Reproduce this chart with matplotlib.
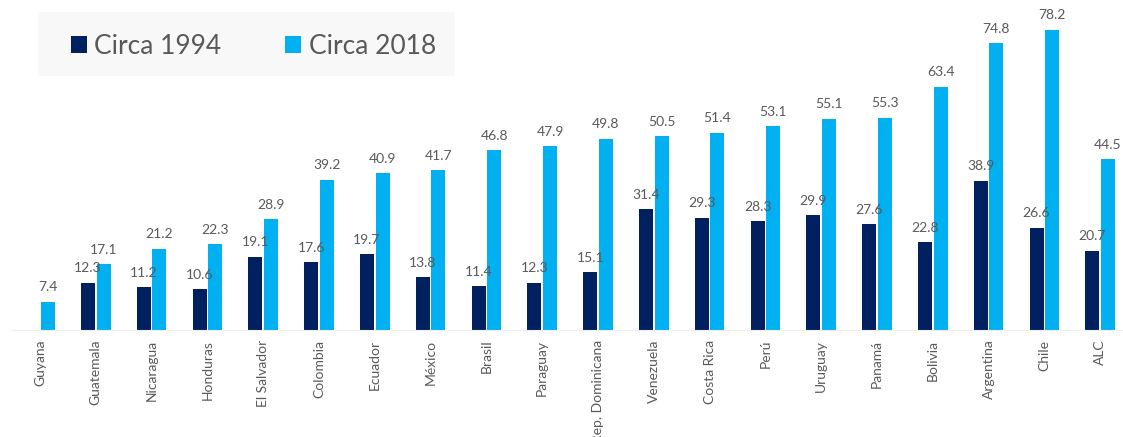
import numpy as np
import matplotlib.pyplot as plt
from matplotlib.patches import Rectangle

# Datos por país
paises = ['Guyana', 'Guatemala', 'Nicaragua', 'Honduras', 'El Salvador', 'Colombia',
          'Ecuador', 'México', 'Brasil', 'Paraguay', 'Rep. Dominicana', 'Venezuela',
          'Costa Rica', 'Perú', 'Uruguay', 'Panamá', 'Bolivia', 'Argentina', 'Chile', 'ALC']
circa_1994 = [np.nan, 12.3, 11.2, 10.6, 19.1, 17.6, 19.7, 13.8, 11.4, 12.3,
              15.1, 31.4, 29.3, 28.3, 29.9, 27.6, 22.8, 38.9, 26.6, 20.7]
circa_2018 = [7.4, 17.1, 21.2, 22.3, 28.9, 39.2, 40.9, 41.7, 46.8, 47.9,
              49.8, 50.5, 51.4, 53.1, 55.1, 55.3, 63.4, 74.8, 78.2, 44.5]

azul_oscuro = '#002060'
azul_claro = '#00B0F0'
gris = '#595959'

plt.rcParams['font.family'] = ['Lato', 'DejaVu Sans']

fig = plt.figure(figsize=(11.23, 4.37), dpi=100)
ax = fig.add_axes([0, 0.245, 1, 0.755])
ax.patch.set_alpha(0)

x = np.arange(len(paises))
ancho = 0.25
sep = 0.015

ax.bar(x - ancho / 2 - sep, circa_1994, ancho, color=azul_oscuro, label='Circa 1994')
ax.bar(x + ancho / 2 + sep, circa_2018, ancho, color=azul_claro, label='Circa 2018')

# Etiquetas de valores
for xi, v in zip(x, circa_1994):
    if not np.isnan(v):
        ax.text(xi - ancho / 2 - sep, v + 2.2, f'{v:.1f}', ha='center', va='bottom',
                fontsize=10, color=gris)
for xi, v in zip(x, circa_2018):
    ax.text(xi + ancho / 2 + sep, v + 2.2, f'{v:.1f}', ha='center', va='bottom',
            fontsize=10, color=gris)

ax.set_xlim(-40 / 55.8, 1083 / 55.8)
ax.set_ylim(0, 86)
ax.set_xticks(x)
ax.set_xticklabels(paises, rotation=90, fontsize=10, color=gris)
ax.tick_params(axis='x', length=0, pad=7)
ax.set_yticks([])
for s in ['top', 'right', 'left']:
    ax.spines[s].set_visible(False)
ax.spines['bottom'].set_color('#eeeeee')
ax.spines['bottom'].set_bounds(-0.5, 19.5)

# Leyenda sobre fondo gris claro
fondo = Rectangle((38 / 1123, 1 - 76 / 437), 417 / 1123, 64 / 437,
                  transform=fig.transFigure, facecolor='#f8f8f8',
                  edgecolor='none', zorder=-1)
fig.patches.append(fondo)
ax.legend(loc='upper left', bbox_to_anchor=(47 / 1123, 1 - 10 / 437),
          bbox_transform=fig.transFigure, ncol=2, frameon=False, fontsize=19,
          labelcolor=gris, handlelength=0.6, handleheight=0.6, handletextpad=0.3,
          columnspacing=2.4)

fig.savefig('out.png', dpi=100)
